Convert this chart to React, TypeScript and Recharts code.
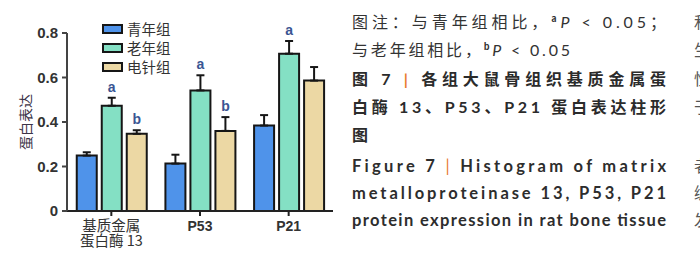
import { BarChart, Bar, XAxis, YAxis, ErrorBar, LabelList, Legend, Label } from "recharts";

const categories = ["基质金属\n蛋白酶 13", "P53", "P21"];
const seriesNames = ["青年组", "老年组", "电针组"];
const young = [0.249, 0.213, 0.384];
const youngErr = [0.015, 0.04, 0.047];
const old = [0.473, 0.542, 0.707];
const oldErr = [0.036, 0.068, 0.057];
const ea = [0.347, 0.36, 0.586];
const eaErr = [0.016, 0.062, 0.061];
const oldSig = ["a", "a", "a"];
const eaSig = ["b", "b", ""];
const yTicks = [0, 0.2, 0.4, 0.6, 0.8];

const COLORS = ["#4f93ea", "#84e0c4", "#ecd8a4"];
const EDGE = "#161616";
const INK = "#333";
const SIG = "#3a5593";
const ORANGE = "#e8782e";
const CJK = '"Noto Sans CJK SC", "Noto Sans", sans-serif';
const LATIN = 'Lato, "Noto Sans", sans-serif';

const rows = categories.map((name, i) => ({
  name,
  young: young[i],
  youngErr: [0, youngErr[i]],
  old: old[i],
  oldErr: [0, oldErr[i]],
  ea: ea[i],
  eaErr: [0, eaErr[i]],
}));

function CategoryTick({ x, y, payload }: any) {
  const text = String(payload.value);
  const lines = text.split("\n");
  const isCjk = /[\u4e00-\u9fff]/.test(text);
  return (
    <text
      x={x}
      y={y}
      textAnchor="middle"
      fill={INK}
      fontSize={isCjk ? 14.5 : 14}
      fontWeight={isCjk ? 400 : 700}
      fontFamily={isCjk ? CJK : '"Liberation Sans", Arial, sans-serif'}
    >
      {lines.map((l, i) => (
        <tspan key={i} x={x} dy={i === 0 ? 13 : 15}>
          {l}
        </tspan>
      ))}
    </text>
  );
}

function sigLabel(marks: string[], errs: number[]) {
  return (props: any) => {
    const { x, y, width, height, value, index } = props;
    const mark = marks[index];
    if (!mark || !value) return null;
    const top = y - (errs[index] * height) / value;
    return (
      <text
        x={x + width / 2}
        y={top - 6}
        textAnchor="middle"
        fill={SIG}
        fontSize={14}
        fontWeight={700}
        fontFamily='"Liberation Sans", Arial, sans-serif'
      >
        {mark}
      </text>
    );
  };
}

function LegendBody() {
  return (
    <div>
      {seriesNames.map((s, i) => (
        <div key={s} style={{ display: "flex", alignItems: "center", height: 19 }}>
          <span
            style={{
              display: "inline-block",
              width: 17,
              height: 6,
              background: COLORS[i],
              border: `2px solid ${EDGE}`,
              marginRight: 4,
            }}
          />
          <span style={{ fontFamily: CJK, fontSize: 14.5, color: INK, lineHeight: "19px" }}>{s}</span>
        </div>
      ))}
    </div>
  );
}

const capLine = { fontFamily: CJK, fontSize: 16, fill: INK } as const;
const engLine = { fontFamily: LATIN, fontSize: 16.5, fontWeight: 700, fill: "#2d2d2d" } as const;

function Caption() {
  return (
    <svg width={700} height={271} style={{ position: "absolute", left: 0, top: 0 }}>
      <text x={352} y={28} textLength={314} lengthAdjust="spacing" {...capLine}>
        图注：与青年组相比，
        <tspan fontSize={9} fontWeight={700} dy={-6}>a</tspan>
        <tspan fontFamily={LATIN} fontStyle="italic" dy={6}>P</tspan>
        <tspan fontFamily={LATIN}> &lt; 0.05</tspan>；
      </text>
      <text x={352} y={56} textLength={218} lengthAdjust="spacing" {...capLine}>
        与老年组相比，
        <tspan fontSize={9} fontWeight={700} dy={-6}>b</tspan>
        <tspan fontFamily={LATIN} fontStyle="italic" dy={6}>P</tspan>
        <tspan fontFamily={LATIN}> &lt; 0.05</tspan>
      </text>
      <text x={352} y={85} textLength={314} lengthAdjust="spacing" {...capLine} fontWeight={700} fill="#2b2b2b">
        图 <tspan fontFamily={LATIN}>7</tspan> <tspan fill={ORANGE} fontWeight={700} fontFamily={LATIN}>|</tspan> 各组大鼠骨组织基质金属蛋
      </text>
      <text x={352} y={113} textLength={314} lengthAdjust="spacing" {...capLine} fontWeight={700} fill="#2b2b2b">
        白酶 <tspan fontFamily={LATIN}>13</tspan>、<tspan fontFamily={LATIN}>P53</tspan>、<tspan fontFamily={LATIN}>P21</tspan> 蛋白表达柱形
      </text>
      <text x={352} y={141} {...capLine} fontWeight={700} fill="#2b2b2b">
        图
      </text>
      <text x={352} y={172} textLength={314} lengthAdjust="spacing" {...engLine}>
        Figure 7 <tspan fill={ORANGE} fontWeight={400}>|</tspan> Histogram of matrix
      </text>
      <text x={352} y={199} textLength={314} lengthAdjust="spacing" {...engLine}>
        metalloproteinase 13, P53, P21
      </text>
      <text x={352} y={226} textLength={314} lengthAdjust="spacing" {...engLine}>
        protein expression in rat bone tissue
      </text>
      <g {...capLine} fill="#555">
        <text x={694} y={28}>和</text>
        <text x={694} y={56}>生</text>
        <text x={694} y={85}>性</text>
        <text x={694} y={113}>于</text>
        <text x={694} y={172}>者</text>
        <text x={694} y={199}>编</text>
        <text x={694} y={226}>发</text>
      </g>
    </svg>
  );
}

export default function App() {
  return (
    <div
      style={{
        position: "absolute",
        left: 0,
        top: 0,
        width: 700,
        height: 271,
        overflow: "hidden",
        background: "#fff",
      }}
    >
      <BarChart
        width={340}
        height={271}
        data={rows}
        margin={{ top: 33, right: 7, bottom: 0, left: 0 }}
        barCategoryGap="11%"
        barGap={5}
      >
        <XAxis
          dataKey="name"
          interval={0}
          tick={<CategoryTick />}
          tickSize={5}
          axisLine={{ stroke: "#222", strokeWidth: 2 }}
          tickLine={{ stroke: "#222", strokeWidth: 2 }}
          height={60}
        />
        <YAxis
          type="number"
          domain={[0, 0.8]}
          ticks={yTicks}
          width={67}
          tickSize={5}
          tickMargin={4}
          tickFormatter={(v: number) => (v === 0 ? "0" : v.toFixed(1))}
          tick={{ fill: INK, fontSize: 15, fontWeight: 700, fontFamily: '"Liberation Sans", Arial, sans-serif' }}
          axisLine={{ stroke: "#444", strokeWidth: 2 }}
          tickLine={{ stroke: "#444", strokeWidth: 2 }}
        >
          <Label
            content={(p: any) => {
              const vb = p.viewBox || {};
              const cx = 25;
              const cy = (vb.y ?? 33) + (vb.height ?? 178) / 2;
              return (
                <text
                  x={cx}
                  y={cy}
                  transform={`rotate(-90 ${cx} ${cy})`}
                  textAnchor="middle"
                  dominantBaseline="central"
                  fill="#3c3448"
                  fontSize={14}
                  fontFamily={CJK}
                >
                  蛋白表达
                </text>
              );
            }}
          />
        </YAxis>
        <Legend
          layout="vertical"
          align="center"
          verticalAlign="middle"
          content={<LegendBody />}
          wrapperStyle={{ left: 102, top: 19, width: 90 }}
        />
        <Bar dataKey="young" name={seriesNames[0]} fill={COLORS[0]} stroke={EDGE} strokeWidth={2} isAnimationActive={false}>
          <ErrorBar dataKey="youngErr" direction="y" width={4} stroke={EDGE} strokeWidth={2} />
        </Bar>
        <Bar dataKey="old" name={seriesNames[1]} fill={COLORS[1]} stroke={EDGE} strokeWidth={2} isAnimationActive={false}>
          <ErrorBar dataKey="oldErr" direction="y" width={4} stroke={EDGE} strokeWidth={2} />
          <LabelList dataKey="old" content={sigLabel(oldSig, oldErr)} />
        </Bar>
        <Bar dataKey="ea" name={seriesNames[2]} fill={COLORS[2]} stroke={EDGE} strokeWidth={2} isAnimationActive={false}>
          <ErrorBar dataKey="eaErr" direction="y" width={4} stroke={EDGE} strokeWidth={2} />
          <LabelList dataKey="ea" content={sigLabel(eaSig, eaErr)} />
        </Bar>
      </BarChart>
      <Caption />
    </div>
  );
}
